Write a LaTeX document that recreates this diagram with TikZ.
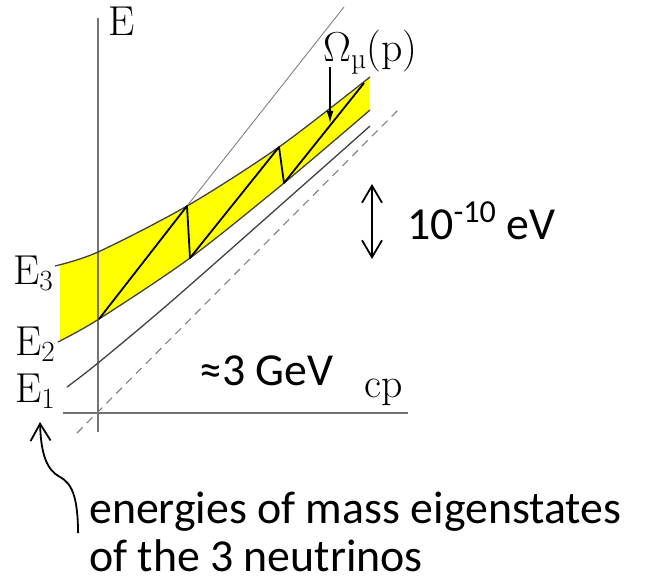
\RequirePackage{fix-cm}
\documentclass[tikz,border=0pt]{standalone}
\usepackage{fontspec}
\newfontfamily\calibri{Carlito}
\usetikzlibrary{arrows.meta}
\definecolor{bandyellow}{RGB}{255,255,0}

\begin{document}
\begin{tikzpicture}[
    x=1bp, y=-1bp,
    >={Straight Barb[length=17bp,width=20bp]},
    axis/.style={draw=black!55, line width=2.2pt},
    level/.style={draw=black!75, line width=1.3pt},
    guide/.style={draw=black!50, line width=1.1pt},
    zig/.style={draw=black, line width=1.8pt, line join=round},
    lab/.style={inner sep=0pt, font=\fontsize{42}{48}\selectfont},
    big/.style={inner sep=0pt, align=left,
                font=\calibri\fontsize{46}{48}\selectfont},
    sig/.style={->, line width=1.8pt},
  ]
  \useasboundingbox (0,0) rectangle (648,584);

  %% ---- corners of the zigzag on the band edges -----------------------
  \coordinate (b1) at (99,319);
  \coordinate (t2) at (187,206);
  \coordinate (b2) at (190,258);
  \coordinate (t3) at (279,147);
  \coordinate (b3) at (284,183);
  \coordinate (t4) at (364,83);

  %% ---- yellow band between E2 and E3 ---------------------------------
  \begin{scope}
    \clip (60,0) rectangle (369,584);
    \fill[bandyellow]
      plot[smooth] coordinates {(55,266) (98,252) (187,206) (279,147) (370,77)}
      -- plot[smooth] coordinates {(370,110) (284,183) (190,258) (99,319) (58,342)}
      -- cycle;
  \end{scope}

  %% ---- axes ----------------------------------------------------------
  \coordinate (ytop) at (98,18);
  \coordinate (ybot) at (98,432);
  \coordinate (xl)   at (63,413);
  \coordinate (xr)   at (408,413);
  \draw[axis] (ybot) -- (ytop);
  \draw[axis] (xl) -- (xr);

  %% ---- energy levels -------------------------------------------------
  \draw[level] plot[smooth] coordinates {(55,266) (98,252) (187,206) (279,147) (370,77)};
  \draw[level] plot[smooth] coordinates {(58,342) (99,319) (190,258) (284,183) (370,110)};
  \draw[level] plot[smooth] coordinates {(67,387) (98,363) (173,300) (317,173) (370,126)};
  \coordinate (d0) at (77,433);
  \coordinate (d1) at (398,110);
  \draw[guide, dash pattern=on 8pt off 6pt] (d0) -- (d1);
  \coordinate (s1) at (344,7);
  \draw[guide, line width=0.9pt] (t2) -- (s1);

  %% ---- oscillating path ----------------------------------------------
  \draw[zig] (b1) -- (t2) -- (b2) -- (t3) -- (b3) -- (t4);

  %% ---- labels ---------------------------------------------------------
  \node[lab, anchor=base west] (E)  at (108,36)  {E};
  \node[lab, anchor=base west] (E3) at (13,284)  {E$_3$};
  \node[lab, anchor=base west] (E2) at (15,355)  {E$_2$};
  \node[lab, anchor=base west] (E1) at (15,402)  {E$_1$};
  \node[lab, anchor=base west] (cp) at (364,397) {cp};
  \node[lab, anchor=base west] (om) at (323,62)  {$\Omega$\textsubscript{\textmu}(p)};
  \coordinate (omtop) at (330,67);
  \coordinate (omtip) at (330,123);
  \draw[line width=1.4pt, -{Latex[length=12bp,width=7bp]}] (omtop) -- (omtip);

  \node[big, anchor=base west] (gev) at (199,385) {≈3 GeV};
  \node[big, anchor=base west] (ev)  at (407,239) {10\textsuperscript{-10} eV};
  \coordinate (up) at (372,184);
  \coordinate (dn) at (372,259);
  \draw[sig, <->] (dn) -- (up);

  %% ---- note on the mass eigenstates ----------------------------------
  \node[big, anchor=base west] (note) at (89,571)
    {energies of mass eigenstates\\of the 3 neutrinos};
  \coordinate (cb) at (78,533);
  \coordinate (ct) at (40,422);
  \draw[sig] (cb) .. controls (78,495) and (71,483) .. (60,477)
                  .. controls (47,470) and (41,455) .. (ct);

\end{tikzpicture}
\end{document}
